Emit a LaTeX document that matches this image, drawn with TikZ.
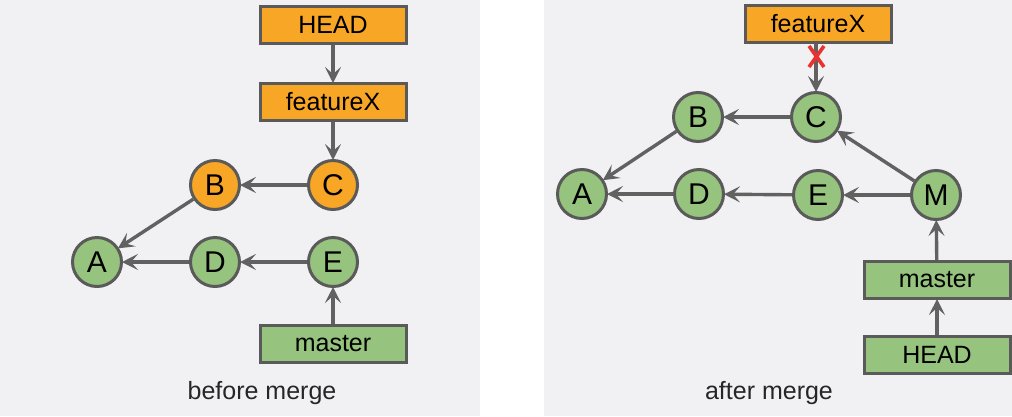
\documentclass[tikz,border=0pt]{standalone}
\usepackage{fontspec}
\setmainfont{Liberation Sans}
\usetikzlibrary{arrows.meta}
\definecolor{bggray}{HTML}{F1F1F3}
\definecolor{orangefill}{HTML}{F8A626}
\definecolor{greenfill}{HTML}{96C47E}
\definecolor{edgegray}{HTML}{5A5A5A}
\definecolor{arrowgray}{HTML}{616161}
\definecolor{xred}{HTML}{E8322E}
\tikzset{
  commit/.style={circle, draw=edgegray, line width=3pt, minimum size=49pt, inner sep=0pt, font=\fontsize{30}{30}\selectfont},
  refbox/.style={rectangle, draw=edgegray, line width=3pt, minimum width=146pt, minimum height=37pt, inner sep=0pt, font=\fontsize{25}{25}\selectfont},
  orangec/.style={fill=orangefill},
  greenc/.style={fill=greenfill},
  ptr/.style={draw=arrowgray, line width=3.4pt, -{Stealth[length=16pt,width=16pt,inset=7pt]}, shorten >=-1pt},
  caption/.style={font=\fontsize{25}{25}\selectfont, text=black!85}
}
\begin{document}
\begin{tikzpicture}[x=1pt,y=-1pt]
\useasboundingbox (0,0) rectangle (1012,416);
\fill[white] (0,0) rectangle (1012,416);
\fill[bggray] (0,0) rectangle (480,416);
\fill[bggray] (544,0) rectangle (1012,416);

% ---------- before merge ----------
\node[refbox, orangec] (lhead) at (333,25) {HEAD};
\node[refbox, orangec] (lfeat) at (333,102) {featureX};
\node[commit, orangec] (lB) at (215,185) {B};
\node[commit, orangec] (lC) at (333,185) {C};
\node[commit, greenc] (lA) at (97,262) {A};
\node[commit, greenc] (lD) at (215,262) {D};
\node[commit, greenc] (lE) at (333,262) {E};
\node[refbox, greenc] (lmaster) at (333,344) {master};
\node[caption] (lcap) at (262,393) {before merge};

\draw[ptr] (lhead) -- (lfeat);
\draw[ptr] (lfeat) -- (lC);
\draw[ptr] (lC) -- (lB);
\draw[ptr] (lB) -- (lA);
\draw[ptr] (lE) -- (lD);
\draw[ptr] (lD) -- (lA);
\draw[ptr] (lmaster) -- (lE);

% ---------- after merge ----------
\node[refbox, orangec] (rfeat) at (818,24) {featureX};
\node[commit, greenc] (rB) at (698,117) {B};
\node[commit, greenc] (rC) at (816,117) {C};
\node[commit, greenc] (rA) at (582,194) {A};
\node[commit, greenc] (rD) at (699,194) {D};
\node[commit, greenc] (rE) at (818,195) {E};
\node[commit, greenc] (rM) at (936,195) {M};
\node[refbox, greenc] (rmaster) at (937,280) {master};
\node[refbox, greenc] (rhead) at (937,355) {HEAD};
\node[caption] (rcap) at (769,393) {after merge};

\draw[ptr] (rfeat.south -| rC) -- (rC);
\draw[ptr] (rC) -- (rB);
\draw[ptr] (rB) -- (rA);
\draw[ptr] (rM) -- (rC);
\draw[ptr] (rM) -- (rE);
\draw[ptr] (rE) -- (rD);
\draw[ptr] (rD) -- (rA);
\draw[ptr] (rmaster) -- (rM);
\draw[ptr] (rhead) -- (rmaster);

% red cross
\coordinate (x1) at (809,46);
\coordinate (x2) at (824,67);
\coordinate (x3) at (824,46);
\coordinate (x4) at (809,67);
\draw[xred, line width=3.6pt] (x1) -- (x2);
\draw[xred, line width=3.6pt] (x3) -- (x4);
\end{tikzpicture}
\end{document}
